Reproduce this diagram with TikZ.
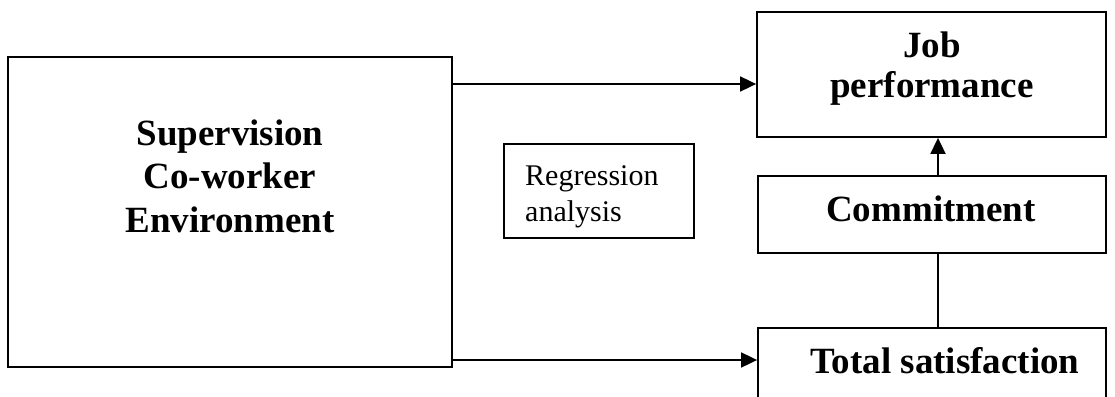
\documentclass[tikz,border=0pt]{standalone}
\usepackage{fontspec}
\setmainfont{Liberation Serif}
\usetikzlibrary{arrows.meta}
\tikzset{
  box/.style={draw, line width=1.8pt, rectangle, inner sep=0pt},
  head/.style={font=\fontsize{37}{42}\selectfont\bfseries, inner sep=0pt, anchor=base},
  note/.style={font=\fontsize{30}{36}\selectfont, inner sep=0pt, anchor=base west},
  link/.style={line width=1.8pt},
  arrow/.style={link, -{Triangle[length=16pt,width=15pt]}}
}
\begin{document}
\begin{tikzpicture}[x=1pt, y=-1pt]
\useasboundingbox (0,0) rectangle (1115,396);
\clip (0,0) rectangle (1115,396);
% boxes
\node[box, minimum width=444pt, minimum height=310pt] (factors) at (230,212) {};
\node[box, minimum width=349pt, minimum height=125pt] (job) at (931.5,74.5) {};
\node[box, minimum width=348pt, minimum height=77pt] (commit) at (932,214.5) {};
\node[box, minimum width=348pt, minimum height=120pt] (total) at (932,388) {};
\node[box, minimum width=190pt, minimum height=94pt] (regr) at (599,191) {};
% texts
\node[head] (t1) at (230,145) {Supervision};
\node[head] (t2) at (230,188) {Co-worker};
\node[head] (t3) at (230,232) {Environment};
\node[head] (t4) at (932,57) {Job};
\node[head] (t5) at (932,97) {performance};
\node[head] (t6) at (931,221) {Commitment};
\node[head] (t7) at (945,373) {Total satisfaction};
\node[note] (t8) at (525,185) {Regression};
\node[note] (t9) at (525,221) {analysis};
% connectors
\draw[arrow] (factors.east |- 0,84) -- (job.west |- 0,84);
\draw[arrow] (factors.east |- 0,360) -- (total.west |- 0,360);
\draw[arrow] (commit.north -| 938,0) -- (job.south -| 938,0);
\draw[link] (total.north -| 938,0) -- (commit.south -| 938,0);
\end{tikzpicture}
\end{document}
